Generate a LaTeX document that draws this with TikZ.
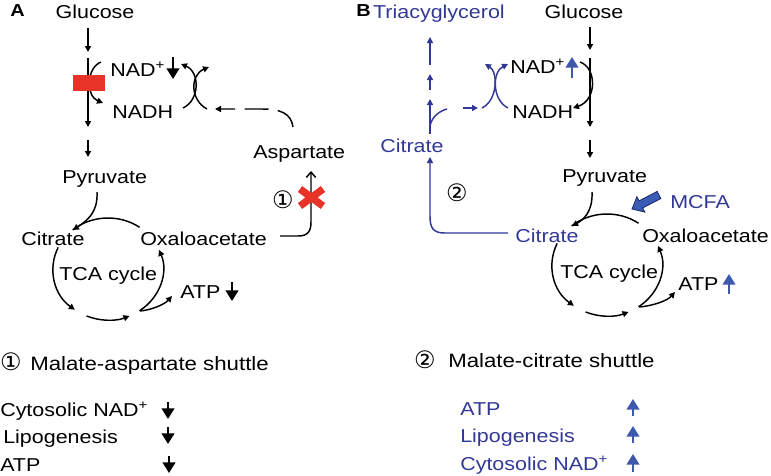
\documentclass[tikz,border=0pt]{standalone}
\usepackage{fontspec}
\setmainfont[FakeStretch=1.15]{Liberation Sans}
\newfontfamily\dejavu{DejaVu Sans}
\usetikzlibrary{arrows.meta,calc}
\definecolor{bluetxt}{RGB}{50,56,150}
\definecolor{bluearr}{RGB}{62,88,172}
\definecolor{redm}{RGB}{232,52,40}
\definecolor{mcfafill}{RGB}{58,92,182}
\definecolor{mcfaedge}{RGB}{30,40,100}
\begin{document}
\begin{tikzpicture}[x=0.75pt,y=-0.75pt,
  lbl/.style={inner sep=0pt, font=\fontsize{14}{16}\selectfont},
  ttl/.style={inner sep=0pt, font=\fontsize{14.5}{16}\selectfont},
  circ/.style={inner sep=0pt, font=\dejavu\fontsize{18}{20}\selectfont},
  panel/.style={inner sep=0pt, font=\bfseries\fontsize{13}{15}\selectfont},
  conn/.style={line width=1.1pt, -{Triangle[width=4.5pt,length=4.5pt]}},
  plain/.style={line width=1.1pt},
  bigdown/.style={line width=1.6pt, -{Triangle[width=9.5pt,length=8pt]}},
  dashconn/.style={line width=1.1pt, dash pattern=on 18pt off 7pt, -{Triangle[width=4.5pt,length=4.5pt]}},
  openconn/.style={line width=1.1pt, -{Straight Barb[length=4pt,width=7pt]}}
]
\useasboundingbox (0,0) rectangle (771,475);

% ================= Panel A =================
\node[panel, anchor=base west] (labA) at (10,16.5) {A};
\node[lbl, anchor=base] (gluA) at (95,18.5) {Glucose};
\node[lbl, anchor=base west] (nadA) at (110,76.5) {NAD\textsuperscript{+}};
\node[lbl, anchor=base west] (nadhA) at (112,118) {NADH};
\node[lbl, anchor=base west] (pyrA) at (62,183) {Pyruvate};
\node[lbl, anchor=base west] (aspA) at (253,158) {Aspartate};
\node[lbl, anchor=base west] (citA) at (21,245) {Citrate};
\node[lbl, anchor=base west] (oxaA) at (140,245) {Oxaloacetate};
\node[lbl, anchor=base west] (tcaA) at (59,280) {TCA cycle};
\node[lbl, anchor=base west] (atpA) at (180,298) {ATP};
\node[circ] (c1A) at (283,200) {①};

\coordinate (cA) at (108,269);
\coordinate (a1s) at (88,28);  \coordinate (a1e) at (88,52);
\coordinate (a2s) at (88,58);  \coordinate (a2e) at (88,127);
\coordinate (a3s) at (88,140); \coordinate (a3e) at (88,157);
\draw[conn] (a1s) -- (a1e);
\draw[conn] (a2s) -- (a2e);
\draw[conn] (a3s) -- (a3e);
% NADH <- NAD+ arc
\coordinate (la1) at (101,62); \coordinate (la2) at (103,103);
\draw[conn] (la1) .. controls (86,68) and (86,96) .. (la2);
% NAD+ down
\coordinate (nd1) at (173,57); \coordinate (nd2) at (173,79);
\draw[bigdown] (nd1) -- (nd2);
% crossing arcs
\coordinate (xl1) at (183,108); \coordinate (xl2) at (181,64);
\coordinate (xr1) at (207,109); \coordinate (xr2) at (209,67);
\draw[conn] (xl1) .. controls (200,100) and (200,72) .. (xl2);
\draw[conn] (xr1) .. controls (190,100) and (190,75) .. (xr2);
% dashed from aspartate
\coordinate (ds1) at (293,127); \coordinate (ds2) at (215,109);
\draw[dashconn] (ds1) .. controls (291,113) and (280,109) .. (262,109) -- (ds2);
% oxaloacetate -> aspartate
\coordinate (oa1) at (280,236); \coordinate (oa2) at (311,171);
\draw[openconn] (oa1) -- (298,236) .. controls (308,236) and (311,231) .. (311,222) -- (oa2);
% TCA cycle A
\draw[plain] (cA) ++(-55:55 and 51) arc[start angle=-55, end angle=-130, x radius=55, y radius=51];
\draw[conn] (cA) ++(205:55 and 51) arc[start angle=205, end angle=127, x radius=55, y radius=51];
\draw[conn] (cA) ++(113:55 and 51) arc[start angle=113, end angle=67, x radius=55, y radius=51];
\draw[conn] (cA) ++(55:55 and 51) arc[start angle=55, end angle=-22, x radius=55, y radius=51];
\coordinate (pc1) at (97,192); \coordinate (pc2) at (73,230);
\draw[conn] (pc1) .. controls (98,212) and (88,220) .. (pc2);
\coordinate (ab1) at (140,311); \coordinate (ab2) at (172,296);
\draw[conn] (ab1) .. controls (152,310) and (165,304) .. (ab2);
\coordinate (ad1) at (232,282); \coordinate (ad2) at (232,301);
\draw[bigdown] (ad1) -- (ad2);
% red blocks
\fill[redm] (73,75) rectangle (105,91);
\draw[redm, line width=5.5pt] (300,189) -- (323,206) (300,206) -- (323,189);

% ================= Panel B =================
\node[panel, anchor=base west] (labB) at (356,16.5) {B};
\node[lbl, anchor=base] (gluB) at (584,18.5) {Glucose};
\node[lbl, anchor=base east, text=bluetxt] (triB) at (505,18.5) {Triacyglycerol};
\node[lbl, anchor=base west] (nadB) at (510,73) {NAD\textsuperscript{+}};
\node[lbl, anchor=base west] (nadhB) at (512,118) {NADH};
\node[lbl, anchor=base west] (pyrB) at (562,182) {Pyruvate};
\node[lbl, anchor=base west, text=bluetxt] (mcfa) at (670,208) {MCFA};
\node[lbl, anchor=base west, text=bluetxt] (citB1) at (380,152) {Citrate};
\node[circ] (c2B) at (457,193) {②};
\node[lbl, anchor=base west, text=bluetxt] (citB2) at (515,242) {Citrate};
\node[lbl, anchor=base west] (oxaB) at (642,242) {Oxaloacetate};
\node[lbl, anchor=base west] (tcaB) at (560,278) {TCA cycle};
\node[lbl, anchor=base west] (atpB) at (678,290) {ATP};

\coordinate (cB) at (607,265);
\coordinate (b1s) at (590,27);  \coordinate (b1e) at (590,50);
\coordinate (b2s) at (590,58);  \coordinate (b2e) at (590,127);
\coordinate (b3s) at (590,140); \coordinate (b3e) at (590,158);
\draw[conn] (b1s) -- (b1e);
\draw[conn] (b2s) -- (b2e);
\draw[conn] (b3s) -- (b3e);
\coordinate (rb1) at (580,62); \coordinate (rb2) at (573,108);
\draw[conn] (rb1) .. controls (597,68) and (597,100) .. (rb2);
\coordinate (nu1) at (572,78); \coordinate (nu2) at (572,57);
\draw[bigdown, bluearr] (nu1) -- (nu2);
% blue crossing
\coordinate (yl1) at (482,108); \coordinate (yl2) at (485,64);
\coordinate (yr1) at (508,108); \coordinate (yr2) at (508,64);
\draw[conn, bluetxt] (yl1) .. controls (498,100) and (498,72) .. (yl2);
\draw[conn, bluetxt] (yr1) .. controls (492,100) and (492,72) .. (yr2);
\coordinate (sa1) at (463,108); \coordinate (sa2) at (478,108);
\draw[conn, bluetxt] (sa1) -- (sa2);
% column
\coordinate (k1s) at (430,134); \coordinate (k1e) at (430,99);
\coordinate (k2s) at (430,90);  \coordinate (k2e) at (430,74);
\coordinate (k3s) at (430,65);  \coordinate (k3e) at (430,37);
\draw[conn, bluetxt] (k1s) -- (k1e);
\draw[conn, bluetxt] (k2s) -- (k2e);
\draw[conn, bluetxt] (k3s) -- (k3e);
\coordinate (br1) at (430,126); \coordinate (br2) at (447,109);
\draw[plain, bluetxt] (br1) .. controls (432,116) and (440,111) .. (br2);
% citrate loop
\coordinate (lp1) at (508,233); \coordinate (lp2) at (430,157);
\draw[conn, bluetxt] (lp1) -- (445,233) .. controls (433,233) and (430,228) .. (430,216) -- (lp2);
% TCA cycle B
\draw[plain] (cB) ++(-55:55 and 51) arc[start angle=-55, end angle=-130, x radius=55, y radius=51];
\draw[conn] (cB) ++(205:55 and 51) arc[start angle=205, end angle=127, x radius=55, y radius=51];
\draw[conn] (cB) ++(113:55 and 51) arc[start angle=113, end angle=67, x radius=55, y radius=51];
\draw[conn] (cB) ++(55:55 and 51) arc[start angle=55, end angle=-22, x radius=55, y radius=51];
\coordinate (qc1) at (592,192); \coordinate (qc2) at (572,226);
\draw[conn] (qc1) .. controls (593,212) and (583,220) .. (qc2);
\coordinate (bb1) at (639,307); \coordinate (bb2) at (675,292);
\draw[conn] (bb1) .. controls (652,306) and (667,301) .. (bb2);
\coordinate (au1) at (729,294); \coordinate (au2) at (729,274);
\draw[bigdown, bluearr] (au1) -- (au2);
% MCFA block arrow
\coordinate (mT) at (659,195);
\coordinate (mP) at (632,209);
\coordinate (mB) at ($(mP)!7.5pt!(mT)$);
\filldraw[fill=mcfafill, draw=mcfaedge, line width=0.6pt]
  ($(mT)!3pt!90:(mP)$) -- ($(mB)!3pt!90:(mP)$) -- ($(mB)!6.5pt!90:(mP)$) -- (mP)
  -- ($(mB)!6.5pt!-90:(mP)$) -- ($(mB)!3pt!-90:(mP)$) -- ($(mT)!3pt!-90:(mP)$) -- cycle;

% ================= Bottom lists =================
\node[circ] (c1L) at (11,362) {①};
\node[ttl, anchor=base west] (ttlA) at (30,370) {Malate-aspartate shuttle};
\node[lbl, anchor=base west] (lA1) at (0,416) {Cytosolic NAD\textsuperscript{+}};
\node[lbl, anchor=base west] (lA2) at (3,443) {Lipogenesis};
\node[lbl, anchor=base west] (lA3) at (0,471) {ATP};
\coordinate (d1s) at (168,402); \coordinate (d1e) at (168,419);
\coordinate (d2s) at (168,427); \coordinate (d2e) at (168,444);
\coordinate (d3s) at (169,456); \coordinate (d3e) at (169,473);
\draw[bigdown] (d1s) -- (d1e);
\draw[bigdown] (d2s) -- (d2e);
\draw[bigdown] (d3s) -- (d3e);

\node[circ] (c2L) at (425,360) {②};
\node[ttl, anchor=base west] (ttlB) at (448,367) {Malate-citrate shuttle};
\node[lbl, anchor=base west, text=bluetxt] (lB1) at (460,415) {ATP};
\node[lbl, anchor=base west, text=bluetxt] (lB2) at (460,442) {Lipogenesis};
\node[lbl, anchor=base west, text=bluetxt] (lB3) at (460,470) {Cytosolic NAD\textsuperscript{+}};
\coordinate (u1s) at (633,416); \coordinate (u1e) at (633,399);
\coordinate (u2s) at (633,443); \coordinate (u2e) at (633,426);
\coordinate (u3s) at (633,472); \coordinate (u3e) at (633,454);
\draw[bigdown, bluearr] (u1s) -- (u1e);
\draw[bigdown, bluearr] (u2s) -- (u2e);
\draw[bigdown, bluearr] (u3s) -- (u3e);
\end{tikzpicture}
\end{document}
